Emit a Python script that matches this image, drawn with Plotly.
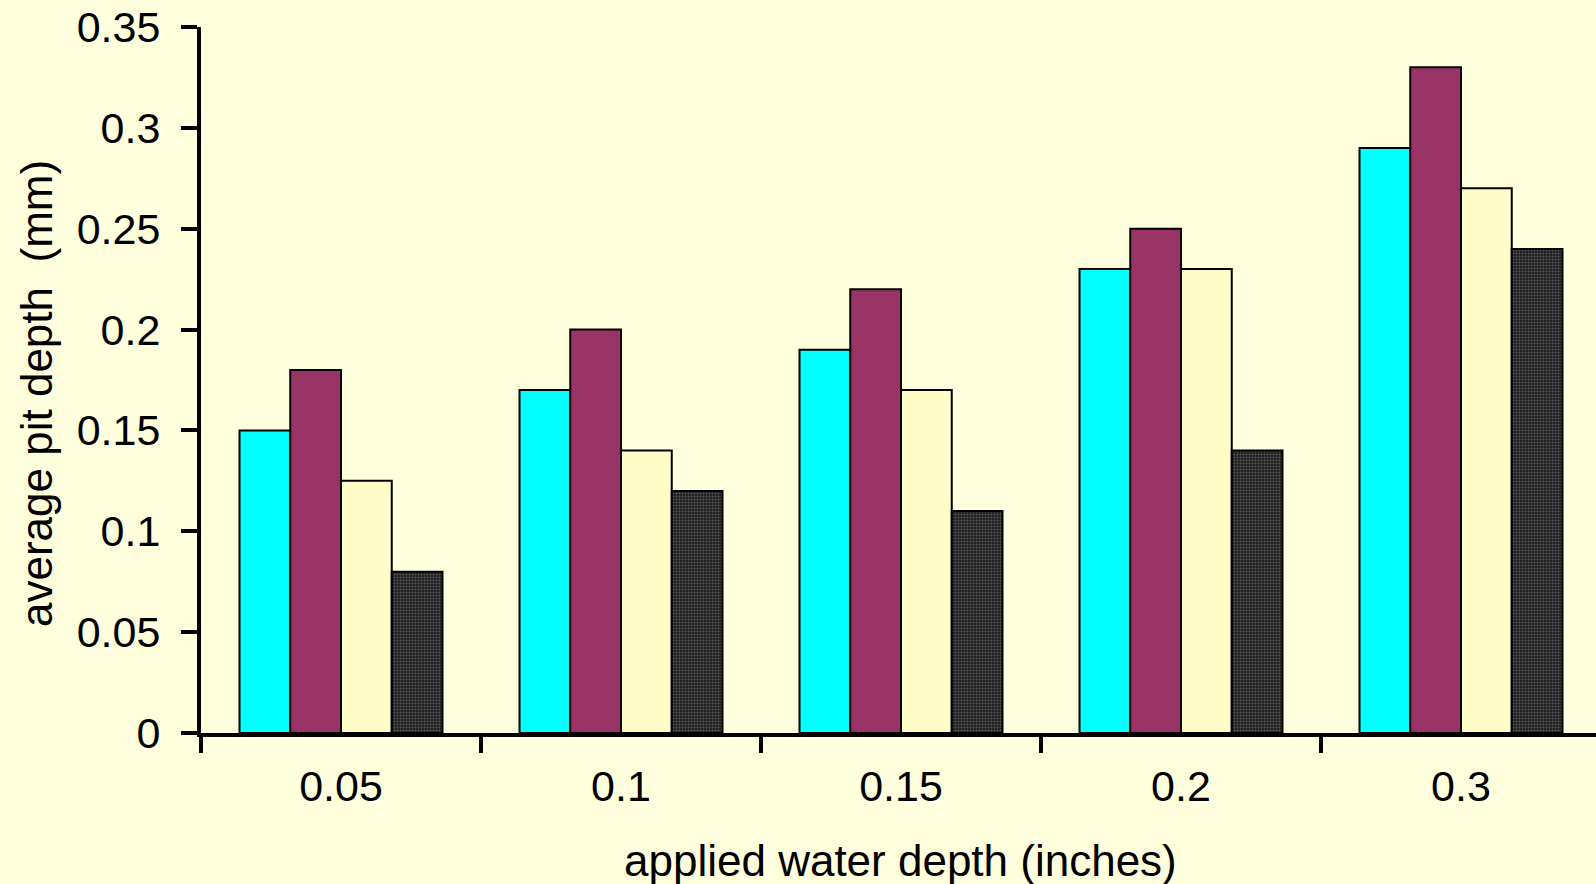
import plotly.graph_objects as go

categories = ["0.05", "0.1", "0.15", "0.2", "0.3"]
series_a = [0.15, 0.17, 0.19, 0.23, 0.29]   # cyan
series_b = [0.18, 0.20, 0.22, 0.25, 0.33]   # maroon
series_c = [0.125, 0.14, 0.17, 0.23, 0.27]  # cream
series_d = [0.08, 0.12, 0.11, 0.14, 0.24]   # dark
y_ticks = [0, 0.05, 0.1, 0.15, 0.2, 0.25, 0.3, 0.35]
y_tick_labels = ["0", "0.05", "0.1", "0.15", "0.2", "0.25", "0.3", "0.35"]

W, H = 1596, 884
L, T, B, R = 201, 27, 151, 0
plot_w = W - L - R
plot_h = H - T - B
cat_w = 280.0

BG = "#FFFFDD"
FONT = "Liberation Sans, Arial, sans-serif"

fig = go.Figure()
line = dict(color="black", width=2)
fig.add_trace(go.Bar(x=categories, y=series_a, marker=dict(color="#00FFFF", line=line)))
fig.add_trace(go.Bar(x=categories, y=series_b, marker=dict(color="#993366", line=line)))
fig.add_trace(go.Bar(x=categories, y=series_c, marker=dict(color="#FFFCC8", line=line)))
fig.add_trace(go.Bar(x=categories, y=series_d,
                     marker=dict(color="#262626", line=dict(color="black", width=2),
                                 pattern=dict(shape=".", bgcolor="#1e1e1e", fgcolor="#5a5a5a",
                                              size=3, solidity=0.35, fillmode="replace"))))

fig.update_layout(
    width=W, height=H,
    margin=dict(l=L, r=R, t=T, b=B, pad=0),
    paper_bgcolor=BG, plot_bgcolor=BG,
    barmode="group", bargap=0.275, bargroupgap=0,
    showlegend=False,
    font=dict(family=FONT, size=44, color="black"),
)
fig.update_xaxes(
    type="category",
    range=[-0.5, -0.5 + plot_w / cat_w],
    showline=True, linecolor="black", linewidth=4,
    ticks="outside", tickson="boundaries", ticklen=16, tickwidth=4, tickcolor="black",
    ticklabelstandoff=12,
    showgrid=False, zeroline=False,
    tickfont=dict(family=FONT, size=43, color="black"),
)
fig.update_yaxes(
    range=[0, 0.35],
    tickvals=y_ticks, ticktext=y_tick_labels,
    showline=True, linecolor="black", linewidth=4,
    ticks="outside", ticklen=16, tickwidth=4, tickcolor="black",
    ticklabelstandoff=12,
    showgrid=False, zeroline=False,
    tickfont=dict(family=FONT, size=43, color="black"),
)

fig.add_annotation(
    text="average pit depth\u00a0\u00a0(mm)", textangle=-90,
    xref="paper", yref="paper",
    x=(36 - L) / plot_w, y=(H - B - 394) / plot_h,
    xanchor="center", yanchor="middle", showarrow=False,
    font=dict(family=FONT, size=44, color="black"),
)
fig.add_annotation(
    text="applied water depth (inches)",
    xref="paper", yref="paper",
    x=(900 - L) / plot_w, y=(H - B - 860) / plot_h,
    xanchor="center", yanchor="middle", showarrow=False,
    font=dict(family=FONT, size=44, color="black"),
)

fig.write_html("out.html")
